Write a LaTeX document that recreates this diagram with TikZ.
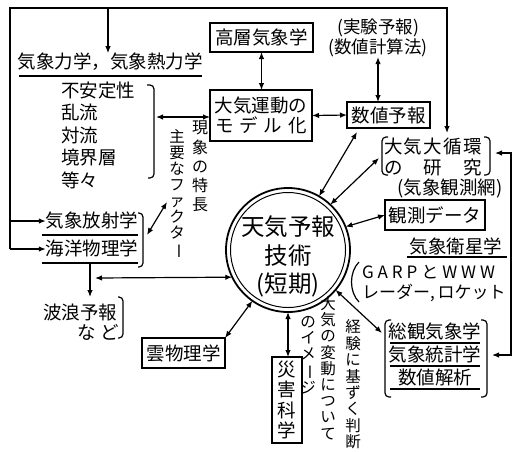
\documentclass[tikz,border=0pt]{standalone}
\usepackage{fontspec}
\usepackage{graphicx}
\setmainfont{Noto Sans CJK JP}
\usetikzlibrary{arrows.meta,calc}
\begin{document}
\begin{tikzpicture}[x=1pt,y=-1pt,
  every node/.style={inner sep=0pt, outer sep=0pt},
  T/.style={font=\fontsize{18.5}{22}\selectfont},
  box/.style={draw, line width=1.3pt, T},
  tip/.tip={Latex[length=7pt,width=5.5pt]},
  arr/.style={line width=1.2pt, -tip},
  dbl/.style={line width=1.2pt, tip-tip},
  ln/.style={line width=1.2pt},
  brk/.style={line width=1.2pt, rounded corners=4pt},
  vt/.style={align=center, font=\fontsize{15.5}{16.2}\selectfont},
]
\useasboundingbox (0,0) rectangle (513,451);

% boxes
\node[box, minimum width=103pt, minimum height=29pt] (koso) at (261.5,37.5) {高層気象学};
\node[box, minimum width=102pt, minimum height=51pt, align=center,
      font=\fontsize{18.5}{20}\selectfont] (model) at (261,115.5)
      {大気運動の\\\makebox[92pt]{モ\hfill デ\hfill ル\hfill 化}};
\node[box, minimum width=83pt, minimum height=26pt] (suchi) at (388.5,115) {数値予報};
\node[box, minimum width=100pt, minimum height=30pt] (kansoku) at (435,215) {観測データ};
\node[box, minimum width=83pt, minimum height=30pt] (kumo) at (183.5,353) {雲物理学};
\node[box, minimum width=30pt, minimum height=86pt, align=center,
      font=\fontsize{18.5}{20.5}\selectfont] (saigai) at (287,400) {災\\害\\科\\学};

% texts
\node[T, align=center, font=\fontsize{17.5}{20}\selectfont] (jikken) at (378,38) {(実験予報)\\(数値計算法)};
\node[T] (rikigaku) at (110,62) {気象力学，気象熱力学};
\node[T, align=left, anchor=west, font=\fontsize{18.5}{22.5}\selectfont] (list) at (61,135)
      {不安定性\\乱流\\対流\\境界層\\等々};
\node[T] (hosha) at (92,220) {気象放射学};
\node[T] (kaiyo) at (92,248) {海洋物理学};
\node[T, align=left, anchor=west, font=\fontsize{18.5}{20}\selectfont] (haro) at (43,322)
      {波浪予報\\\hspace*{34pt}な\hspace{5pt}ど};
\node[T, align=center, font=\fontsize{18.5}{21}\selectfont] (daijun) at (433,157)
      {\makebox[98pt]{大\hfill 気\hfill 大\hfill 循\hfill 環}\\\makebox[98pt]{の\hfill 研\hfill 究}};
\node[T] (mou) at (450,188) {(気象観測網)};
\node[T] (eisei) at (456,246) {気象衛星学};
\node[T, align=left, anchor=west, font=\fontsize{17}{20}\selectfont] (garp) at (362,283)
      {\makebox[133pt]{G\hfill A\hfill R\hfill P\hfill と\hfill W\hfill W\hfill W}\\レーダー,\hspace{3pt}ロケット};
\node[T, align=center, font=\fontsize{18.5}{23}\selectfont] (soukan) at (435,354)
      {総観気象学\\気象統計学\\数値解析};

% centre circle
\node[font=\fontsize{23.5}{28.5}\selectfont, align=center] (ctext) at (288,256.5) {天気予報\\技術\\(短期)};
\node[circle, draw, line width=1.8pt, minimum size=124pt] (c) at (288,250) {};
\draw[line width=1pt] (c.center) circle[radius=57.5pt];

% vertical texts
\node[vt, font=\fontsize{16}{19.2}\selectfont] (gen) at (200,166.5) {現\\象\\の\\特\\長};
\node[vt, font=\fontsize{15.5}{16}\selectfont] (shu) at (177,194)
      {主\\要\\な\\フ\\ァ\\ク\\タ\\\rotatebox[origin=c]{-90}{ー}};
\node[vt] (taiki) at (328,368) {大\\気\\の\\変\\動\\に\\つ\\い\\て};
\node[vt, font=\fontsize{15.5}{16}\selectfont] (image) at (308,355)
      {の\\イ\\メ\\\rotatebox[origin=c]{-90}{ー}\\ジ};
\node[vt, font=\fontsize{15.5}{16.4}\selectfont] (keiken) at (353,384.5) {経\\験\\に\\基\\ず\\く\\判\\断};

% underlines
\draw[ln] (19,76) -- (202,76);
\draw[ln] (42,235) -- (138,235);
\draw[ln] (42,263) -- (138,263);
\draw[ln] (407,257) -- (507,257);
\draw[ln] (390,343) -- (480,343);
\draw[ln] (390,366) -- (480,366);
\draw[ln] (390,389) -- (480,389);

% brackets
\draw[brk] (147,85) -- (154,85) -- (154,178) -- (148,178);
\draw[brk] (138,213) -- (143,213) -- (143,267) -- (138,267);
\draw[brk] (118,297) -- (123,297) -- (123,338) -- (118,338);
\draw[brk] (388,137) -- (382,137) -- (382,175) -- (388,175);
\draw[brk] (484,137) -- (490,137) -- (490,175) -- (484,175);
\draw[brk] (391,320) -- (385,320) -- (385,397) -- (391,397);
\draw[brk] (481,320) -- (487,320) -- (487,397) -- (481,397);
\draw[ln] (359,262) .. controls (349,272) and (349,292) .. (359,302);

% coordinates for free ends
\coordinate (f1) at (10,8);
\coordinate (f2) at (447,8);
\coordinate (f3) at (108,8);
\coordinate (f4) at (10,249);
\coordinate (f5) at (10,221);
\coordinate (djtop) at (447,133);
\coordinate (lb) at (156,117);
\coordinate (sA) at (357,132);
\coordinate (dB) at (379,158);
\coordinate (sD) at (382,333);
\coordinate (g0) at (95,278);
\coordinate (hA) at (147,235);
\coordinate (hB) at (167,202);
\coordinate (k1) at (90,263);
\coordinate (k2) at (90,297);
\coordinate (r1) at (511,153);
\coordinate (r2) at (511,355);
\coordinate (dR) at (495,153);
\coordinate (sR) at (492,355);

% connectors
\draw[arr] (f4) -- (f1) -- (f2) -- (djtop);
\draw[arr] (f5) -- (f5 -| hosha.west);
\draw[arr] (f4) -- (f4 -| kaiyo.west);
\draw[arr] (f3) -- (f3 |- rikigaku.north);
\draw[dbl] (lb) -- (lb -| model.west);
\draw[dbl] (koso.south) -- (koso.south |- model.north);
\draw[dbl] (model.east) -- (suchi.west);
\draw[dbl] (jikken.south) -- (jikken.south |- suchi.north);
\draw[dbl] (c.60) -- (sA);
\draw[dbl] (c.47) -- (dB);
\draw[dbl] (c.22) -- (kansoku.west);
\draw[dbl] (c.-40) -- (sD);
\draw[dbl] (c.south) -- (c.south |- saigai.north);
\draw[dbl] (c.235) -- (kumo.north east);
\draw[dbl] (g0) -- (c.206.8);
\draw[dbl] (hA) -- (hB);
\draw[arr] (k1) -- (k2);
\draw[dbl] (dR) -- (r1) -- (r2) -- (sR);
\end{tikzpicture}
\end{document}
